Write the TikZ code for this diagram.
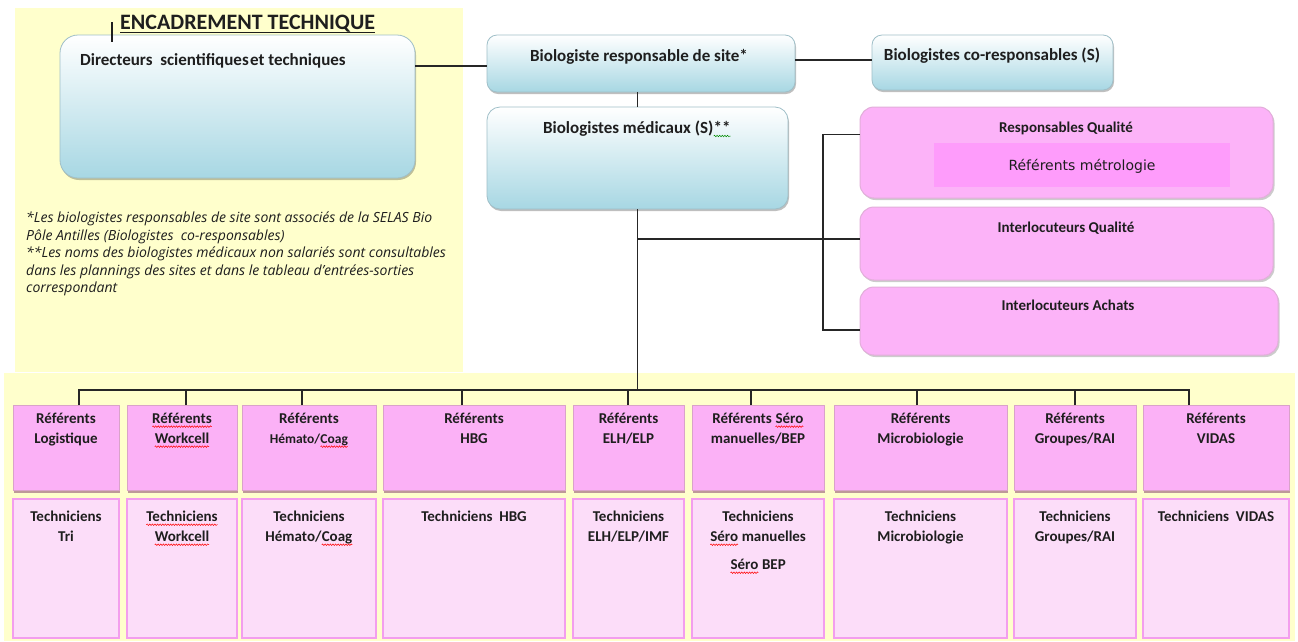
\documentclass[tikz,border=0pt]{standalone}
\usepackage{fontspec}
\setmainfont{Carlito}
\newfontfamily\notefont{Open Sans}
\newfontfamily\plainfont{DejaVu Sans}
\usetikzlibrary{shadows,decorations.pathmorphing}

\definecolor{paper}{HTML}{FFFFCC}
\definecolor{refpink}{HTML}{FBB1F6}
\definecolor{refedge}{HTML}{D9A3C9}
\definecolor{refshade}{HTML}{B88F94}
\definecolor{techfill}{HTML}{FCDDF9}
\definecolor{techedge}{HTML}{F39EEE}
\definecolor{qualfill}{HTML}{FCB3F8}
\definecolor{qualedge}{HTML}{E2AEDA}
\definecolor{metro}{HTML}{FE9CFB}
\definecolor{skybot}{HTML}{A7D7E3}
\definecolor{skyedge}{HTML}{9FBFC8}
\definecolor{ink}{HTML}{1E1E1E}
\definecolor{wire}{HTML}{262626}

% wavy spell-check underline under a word
\newcommand\wavyword[2]{\tikz[baseline=(ww.base)]{\node[inner sep=0, outer sep=0] (ww) {#2};
  \draw[#1, line width=0.5pt, decorate, decoration={snake, amplitude=0.8pt, segment length=2.6pt}]
    ([yshift=-3pt]ww.base west) -- ([yshift=-3pt]ww.base east);}}
\newcommand\spell[1]{\wavyword{red}{#1}}
\newcommand\grammar[1]{\wavyword{green!55!black}{#1}}

\tikzset{
  wire/.style={draw=wire, line width=1.3},
  sky/.style={rounded corners=#1, draw=skyedge, line width=0.8, top color=white, bottom color=skybot,
    drop shadow={shadow xshift=1pt, shadow yshift=-2pt, fill=black, opacity=0.25}},
  sky/.default=10,
  qual/.style={rounded corners=14, fill=qualfill, draw=qualedge, line width=1,
    drop shadow={shadow xshift=1.5pt, shadow yshift=-2pt, fill=black, opacity=0.2}},
  refbox/.style={fill=refpink, draw=refedge, line width=0.8,
    drop shadow={shadow xshift=1pt, shadow yshift=-3pt, fill=refshade, opacity=0.9}},
  techbox/.style={fill=techfill, draw=techedge, line width=2.5},
  toplabel/.style={font=\bfseries\fontsize{17}{20}\selectfont, text=ink, inner sep=0, anchor=base},
  qlabel/.style={font=\bfseries\fontsize{15}{18}\selectfont, text=ink, inner sep=0, anchor=base},
  collabel/.style={font=\bfseries\fontsize{15}{20}\selectfont, text=ink, inner sep=0, align=center, anchor=north},
}

% a box given by its top-left and bottom-right corners
\newcommand\boxat[6]{%
  \node[#2, inner sep=0, outer sep=0, anchor=north west, minimum width={(#5-#3)*1pt}, minimum height={(#6-#4)*1pt}] (#1) at (#3,#4) {};}

% one column of the bottom row: referents above, technicians below
\newcommand\orgcolumn[6]{%
  \boxat{r#1}{refbox}{#2}{405}{#3}{490}
  \boxat{t#1}{techbox}{#2}{499}{#3}{638}
  \node[collabel] (rl#1) at ({(#2+#3)/2},413) {#5};
  \node[collabel] (tl#1) at ({(#2+#3)/2},511) {#6};
  \draw[wire] ([xshift={#4-(#2+#3)/2}]r#1.north) |- (bus);
}

\begin{document}
\begin{tikzpicture}[x=1pt, y=-1pt]
\useasboundingbox (0,0) rectangle (1298,641);
\fill[white] (0,0) rectangle (1298,641);
\fill[paper] (15,8) rectangle (463,372);
\fill[paper] (4,373) rectangle (1295,641);

% management boxes
\boxat{dir}{sky=18}{60}{35}{415}{178}
\node[toplabel, anchor=base west] (dirl) at (80,65) {Directeurs\ \ scientifiques\hspace{0.08em}et techniques};
\boxat{resp}{sky=10}{487}{35}{795}{92}
\node[toplabel] (respl) at (639,61) {Biologiste responsable de site*};
\boxat{coresp}{sky=10}{872}{35}{1113}{90}
\node[toplabel] (corespl) at (992,60) {Biologistes co-responsables (S)};
\boxat{med}{sky=13}{487}{107}{788}{209}
\node[toplabel] (medl) at (637,133) {Biologistes médicaux (S)\grammar{**}};

% heading
\node[font=\bfseries\fontsize{22}{25}\selectfont, text=ink, inner sep=0, anchor=base west] (title) at (120,29) {ENCADREMENT TECHNIQUE};
\draw[draw=ink, line width=1.2] ([yshift=-3.5]title.base west) -- ([yshift=-3.5]title.base east);
\draw[draw=ink, line width=2] (112,22) -- (112,42);

% quality boxes
\boxat{rq}{qual}{860}{107}{1273}{198}
\node[qlabel] (rql) at (1066,132) {Responsables Qualité};
\boxat{metrobox}{fill=metro}{934}{143}{1230}{187}
\node[font=\plainfont\fontsize{14}{16}\selectfont, text=ink, inner sep=0, anchor=base] (metrol) at (1082,170) {Référents métrologie};
\boxat{iq}{qual}{860}{207}{1273}{280}
\node[qlabel] (iql) at (1066,232) {Interlocuteurs Qualité};
\boxat{ia}{qual}{860}{287}{1278}{355}
\node[qlabel] (ial) at (1068,310) {Interlocuteurs Achats};

% footnotes
\node[font=\notefont\itshape\fontsize{14}{17.5}\selectfont, text=ink, inner sep=0, align=left, anchor=north west] (notes) at (26,212)
 {*Les biologistes responsables de site sont associés de la SELAS Bio\\
  Pôle Antilles (Biologistes\ \ co-responsables)\\
  **Les noms des biologistes médicaux non salariés sont consultables\\
  dans les plannings des sites et dans le tableau d’entrées-sorties\\
  correspondant};

% connectors of the upper part
\coordinate (bus) at (637.5,390);
\coordinate (jn) at (637.5,239);
\draw[wire] ([yshift=40.5]dir.east) -- ([yshift=-2.5]resp.west);
\draw[wire] ([yshift=3.5]resp.east) -- ([yshift=2.5]coresp.west);
\draw[wire] (med.north) -- (med.north |- resp.south);
\draw[wire] (med.south) -- (bus);
\draw[wire] (jn) -- ([yshift=4.5]iq.west);
\draw[wire] ([yshift=18]rq.west) -- ++(-37,0) |- ([yshift=-9]ia.west);

% bottom row
\orgcolumn{1}{13}{119}{79}{Référents\\Logistique}{Techniciens\\Tri}
\orgcolumn{2}{127}{237}{186}{\spell{Référents}\\\spell{Workcell}}{\spell{Techniciens}\\\spell{Workcell}}
\orgcolumn{3}{242}{376}{302}{Référents\\{\fontsize{13.5}{20}\selectfont Hémato/\spell{Coag}}}{Techniciens\\Hémato/\spell{Coag}}
\orgcolumn{4}{383}{565}{462}{Référents\\HBG}{Techniciens\ \ HBG}
\orgcolumn{5}{573}{684}{628}{Référents\\ELH/ELP}{Techniciens\\ELH/ELP/IMF}
\orgcolumn{6}{692}{824}{751}{Référents \spell{Séro}\\manuelles/BEP}{Techniciens\\\spell{Séro} manuelles\\[8pt]\spell{Séro} BEP}
\orgcolumn{7}{834}{1007}{917}{Référents\\Microbiologie}{Techniciens\\Microbiologie}
\orgcolumn{8}{1014}{1136}{1075}{Référents\\Groupes/RAI}{Techniciens\\Groupes/RAI}
\orgcolumn{9}{1143}{1289}{1189}{Référents\\VIDAS}{Techniciens\ \ VIDAS}
\end{tikzpicture}
\end{document}
